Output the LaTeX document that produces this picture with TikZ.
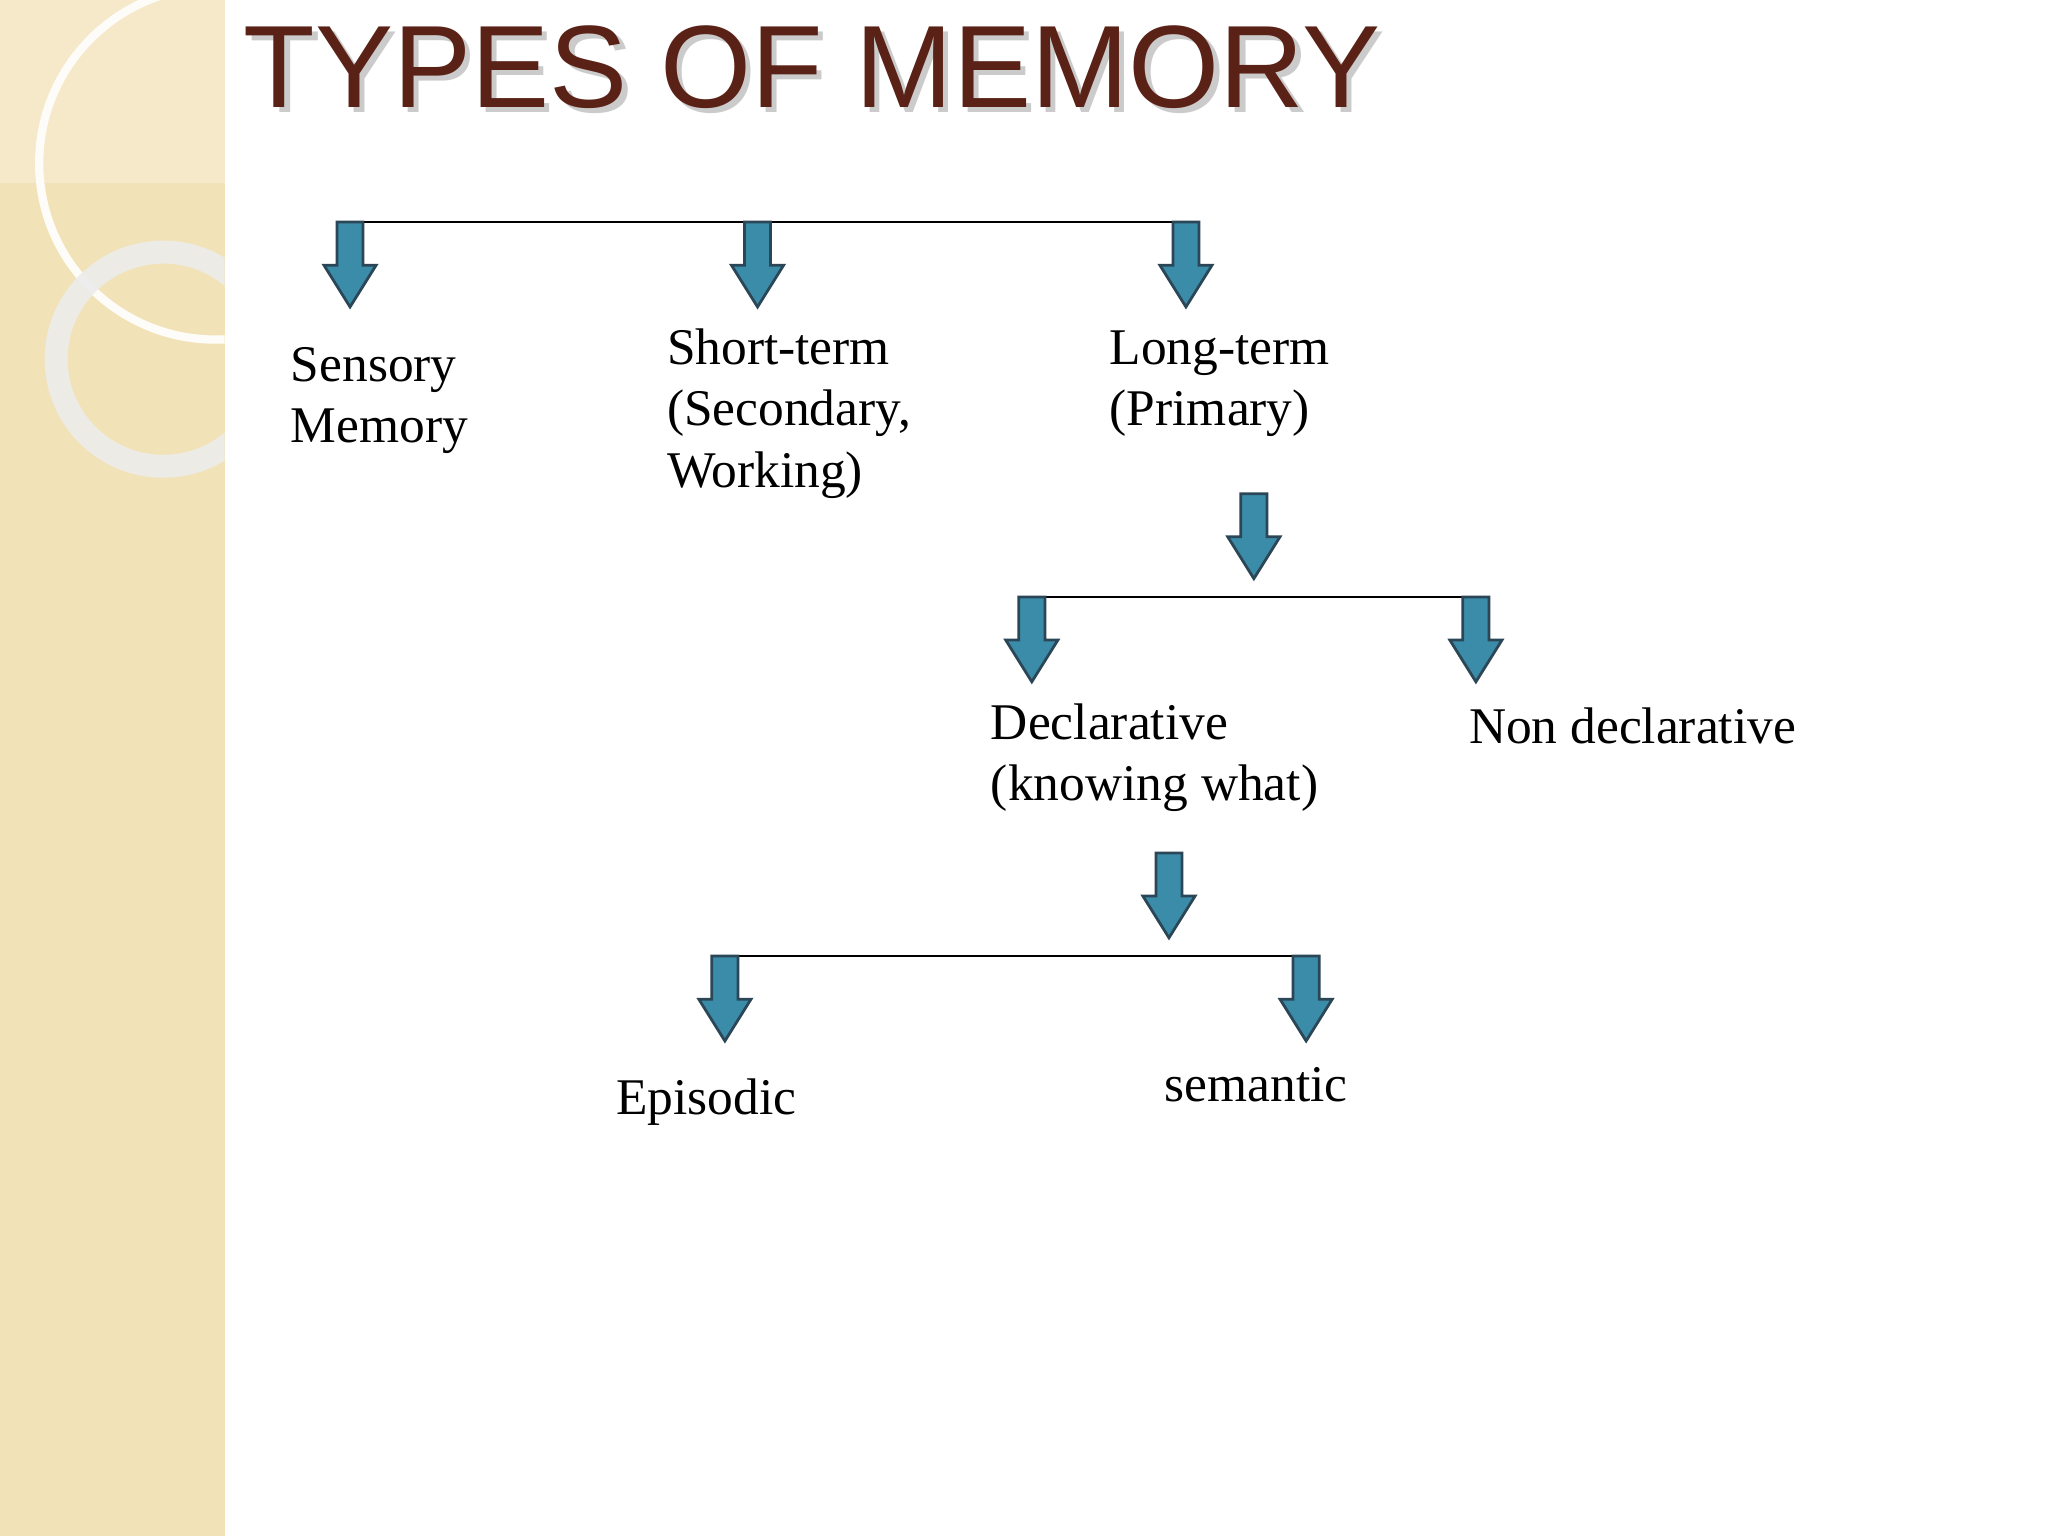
\documentclass[tikz,border=0pt]{standalone}
\usepackage{fontspec}
\setmainfont{Liberation Serif}
\newfontfamily\titlefont{Liberation Sans}
\definecolor{band}{HTML}{F2E2B8}
\definecolor{titlec}{HTML}{5A2216}
\definecolor{arrfill}{HTML}{3A8CA8}
\definecolor{arredge}{HTML}{2B4656}
\tikzset{
  lbl/.style={anchor=base west,font=\fontsize{11.2}{13}\selectfont,inner sep=0pt},
  barline/.style={draw=black,line width=0.6pt},
  blockarrow/.style={fill=arrfill,draw=arredge,line width=0.6pt}
}
\newcommand{\barrow}[3]{% x, ytop, ybottom
  \path[blockarrow] (#1-10,#2) -- (#1+10,#2) -- (#1+10,#3-32) -- (#1+20,#3-32) -- (#1,#3) -- (#1-20,#3-32) -- (#1-10,#3-32) -- cycle;}
\begin{document}
\begin{tikzpicture}[x=0.01cm,y=-0.01cm]
\useasboundingbox (0,0) rectangle (1568,1176);
\fill[white] (0,0) rectangle (1568,1176);
\fill[band] (0,0) rectangle (172,1176);
\fill[white,opacity=0.25] (0,0) rectangle (172,140);
\begin{scope}
\clip (0,0) rectangle (172,1176);
\draw[white,line width=1.8pt,opacity=0.9] (165,125) circle (135);
\draw[white!85!gray,line width=5pt,opacity=0.9] (125,275) circle (82);
\end{scope}
\node[anchor=base west,inner sep=0pt,font=\titlefont\fontsize{25.5}{30}\selectfont,text=black!40,opacity=0.5] at (190,86) {TYPES OF MEMORY};
\node (title)[anchor=base west,inner sep=0pt,font=\titlefont\fontsize{25.5}{30}\selectfont,text=titlec] at (186,82) {TYPES OF MEMORY};
% level 1
\draw[barline] (258,170) -- (918,170);
\barrow{268}{170}{235}
\barrow{580}{170}{235}
\barrow{908}{170}{235}
\node (s1)[lbl] at (222,292) {Sensory};
\node (s2)[lbl] at (222,339) {Memory};
\node (st1)[lbl] at (510,279) {Short-term};
\node (st2)[lbl] at (510,326) {(Secondary,};
\node (st3)[lbl] at (510,373) {Working)};
\node (lt1)[lbl] at (849,279) {Long-term};
\node (lt2)[lbl] at (849,326) {(Primary)};
% level 2
\barrow{960}{378}{443}
\draw[barline] (780,457) -- (1140,457);
\barrow{790}{457}{522}
\barrow{1130}{457}{522}
\node (d1)[lbl] at (758,566) {Declarative};
\node (d2)[lbl] at (758,613) {(knowing what)};
\node (nd)[lbl] at (1124,569) {Non declarative};
% level 3
\barrow{895}{653}{718}
\draw[barline] (545,732) -- (1010,732);
\barrow{555}{732}{797}
\barrow{1000}{732}{797}
\node (ep)[lbl] at (471,853) {Episodic};
\node (se)[lbl] at (891,843) {semantic};
\end{tikzpicture}
\end{document}
